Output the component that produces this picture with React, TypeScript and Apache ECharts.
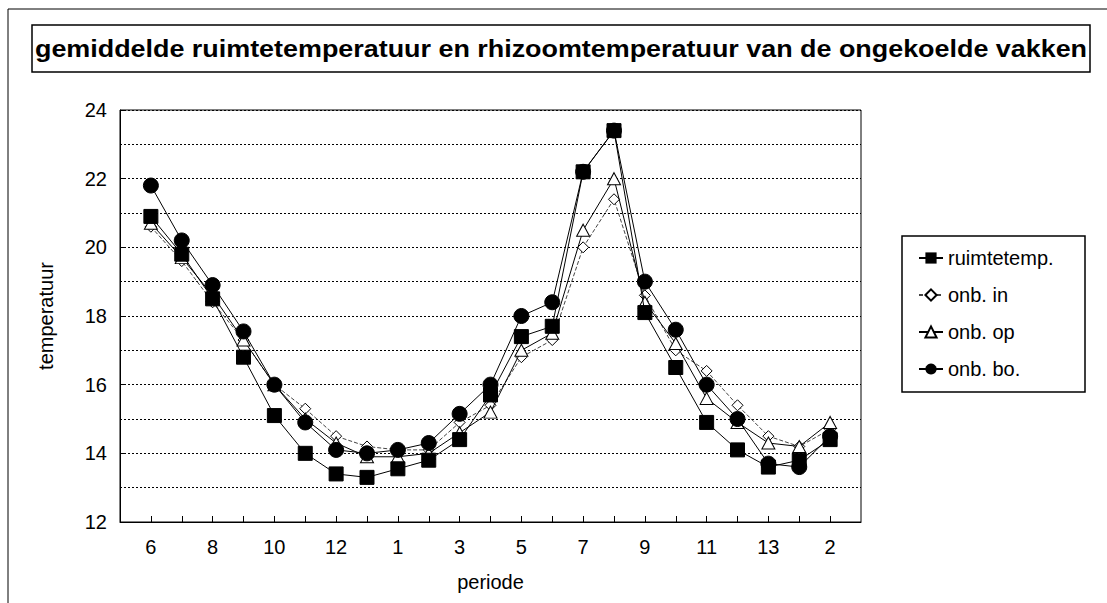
import React, { useEffect, useRef } from "react";
import * as echarts from "echarts";

const periods = ["6","7","8","9","10","11","12","13","1","2","3","4","5","6","7","8","9","10","11","12","13","1","2"];
const ruimtetemp = [20.9,19.8,18.5,16.8,15.1,14.0,13.4,13.3,13.55,13.8,14.4,15.7,17.4,17.7,22.2,23.4,18.1,16.5,14.9,14.1,13.6,13.8,14.4];
const onbIn = [20.6,19.6,18.4,17.3,16.0,15.3,14.5,14.2,14.1,14.1,14.9,15.4,16.8,17.3,20.0,21.4,18.6,17.0,16.4,15.4,14.5,14.2,14.7];
const onbOp = [20.7,19.7,18.6,17.3,16.0,15.0,14.3,13.9,13.9,14.0,14.6,15.2,17.0,17.5,20.5,22.0,18.4,17.2,15.6,14.9,14.3,14.2,14.9];
const onbBo = [21.8,20.2,18.9,17.55,16.0,14.9,14.1,14.0,14.1,14.3,15.15,16.0,18.0,18.4,22.2,23.4,19.0,17.6,16.0,15.0,13.7,13.6,14.5];
const seriesNames = ["ruimtetemp.", "onb. in", "onb. op", "onb. bo."];
const titleText = "gemiddelde ruimtetemperatuur en rhizoomtemperatuur van de ongekoelde vakken";

const FONT = "'Liberation Sans', Arial, sans-serif";

export default function App() {
  const ref = useRef<HTMLDivElement>(null);
  useEffect(() => {
    document.body.style.margin = "0";
    const chart = echarts.init(ref.current!, null, { renderer: "svg" });
    const cats = ["", ...periods, ""];
    const pad = (a: number[]) => [null, ...a, null];
    const base = {
      type: "line",
      lineStyle: { color: "#000", width: 1 },
      itemStyle: { color: "#000", borderColor: "#000" },
      connectNulls: false,
    };
    chart.setOption({
      animation: false,
      backgroundColor: "#fff",
      textStyle: { fontFamily: FONT },
      grid: {
        left: 120, top: 110, width: 741, height: 412,
        show: true, borderColor: "#000", borderWidth: 1, backgroundColor: "transparent",
      },
      xAxis: {
        type: "category",
        data: cats,
        boundaryGap: false,
        name: "periode",
        nameLocation: "middle",
        nameGap: 50,
        nameTextStyle: { fontSize: 20, color: "#000", fontFamily: FONT },
        axisLine: { lineStyle: { color: "#000", width: 1 } },
        axisTick: {
          inside: true, length: 6, lineStyle: { color: "#000" },
          interval: (i: number) => i >= 1 && i <= 23,
        },
        axisLabel: {
          color: "#000", fontSize: 20, margin: 15, fontFamily: FONT,
          interval: (i: number) => i % 2 === 1,
        },
        splitLine: { show: false },
      },
      yAxis: {
        type: "value",
        min: 12, max: 24, interval: 2,
        name: "temperatuur",
        nameLocation: "middle",
        nameGap: 64,
        nameTextStyle: { fontSize: 20, color: "#000", fontFamily: FONT },
        axisLine: { show: true, lineStyle: { color: "#000", width: 1 } },
        axisTick: { show: true, inside: true, length: 6, lineStyle: { color: "#000" } },
        axisLabel: { color: "#000", fontSize: 20, margin: 13, fontFamily: FONT },
        splitLine: { show: true, lineStyle: { color: "#000", type: [2, 2], width: 1 } },
        minorTick: { show: false, splitNumber: 2 },
        minorSplitLine: { show: true, lineStyle: { color: "#000", type: [2, 2], width: 1 } },
      },
      legend: {
        orient: "vertical",
        left: 918, top: 248,
        itemWidth: 24, itemHeight: 14, itemGap: 17,
        padding: 0,
        textStyle: { fontSize: 20, color: "#000", fontFamily: FONT },
        data: seriesNames,
      },
      series: [
        { ...base, name: seriesNames[0], data: pad(ruimtetemp), symbol: "rect", symbolSize: 14, z: 4 },
        {
          ...base, name: seriesNames[1], data: pad(onbIn), symbol: "diamond", symbolSize: [11, 11],
          lineStyle: { color: "#444", width: 1, type: [4, 2] },
          itemStyle: { color: "#fff", borderColor: "#000", borderWidth: 1 }, z: 2,
        },
        {
          ...base, name: seriesNames[2], data: pad(onbOp), symbol: "triangle", symbolSize: [13, 12],
          itemStyle: { color: "#fff", borderColor: "#000", borderWidth: 1 }, z: 3,
        },
        { ...base, name: seriesNames[3], data: pad(onbBo), symbol: "circle", symbolSize: 15, z: 5 },
      ],
      graphic: [
        { type: "rect", shape: { x: 8, y: 9, width: 1200, height: 700 }, style: { fill: "none", stroke: "#000", lineWidth: 1 }, silent: true },
        { type: "rect", shape: { x: 32, y: 25, width: 1058, height: 47 }, style: { fill: "none", stroke: "#000", lineWidth: 1.5 }, silent: true },
        {
          type: "text", x: 561, y: 49, scaleX: 1.17,
          style: { text: titleText, font: `bold 23px ${FONT}`, fill: "#000", align: "center", verticalAlign: "middle" },
          silent: true,
        },
        { type: "rect", shape: { x: 902, y: 236, width: 183, height: 156 }, style: { fill: "none", stroke: "#000", lineWidth: 1.5 }, silent: true },
      ],
    });
    return () => chart.dispose();
  }, []);
  return <div ref={ref} style={{ position: "absolute", left: 0, top: 0, width: 1107, height: 603 }} />;
}
